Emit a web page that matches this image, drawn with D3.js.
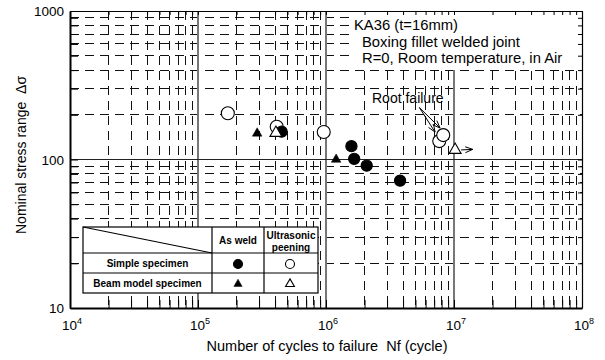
<!DOCTYPE html>
<html><head><meta charset="utf-8">
<script src="https://cdn.jsdelivr.net/npm/d3@7"></script>
<style>body{margin:0;background:#fff;} text{font-family:Arial,"Liberation Sans",sans-serif;fill:#000;}</style>
</head><body><svg id="c" width="605" height="360"></svg>
<script>
// ---- data ----
const xDomain = [1e4, 1e8];
const yDomain = [10, 1000];
const xTickExponents = [4, 5, 6, 7, 8];
const yTickLabels = [10, 100, 1000];
const simpleAsWeldN = [4.5e5, 1.58e6, 1.66e6, 2.08e6, 3.79e6];
const simpleAsWeldS = [154, 123, 101, 91, 72];
const beamAsWeldN = [2.9e5, 1.2e6];
const beamAsWeldS = [150, 100];
const simpleUPN = [1.71e5, 4.12e5, 9.6e5, 7.67e6, 8.24e6];
const simpleUPS = [205, 166, 153, 133, 146];
const beamUPN = [4.06e5, 1.02e7];
const beamUPS = [151, 116];
const rootArrowFrom = [5.36e6, 224];
const rootArrowToN = [7.11e6, 7.78e6];
const rootArrowToS = [153, 163];
const runoutFrom = [1.02e7, 116];
const runoutTo = [1.4e7, 117];
const infoLines = ["KA36 (t=16mm)", "Boxing fillet welded joint", "R=0, Room temperature, in Air"];

// ---- chart ----
const svg = d3.select("#c");
const x = d3.scaleLog().domain(xDomain).range([70, 582]);
const y = d3.scaleLog().domain(yDomain).range([308, 11]);
const X0 = 70, X1 = 582, Y0 = 11, Y1 = 308;

const xMinor = [], yMinor = [];
for (let e = 4; e <= 7; e++) for (let m = 2; m <= 9; m++) xMinor.push(m * Math.pow(10, e));
for (let e = 1; e <= 2; e++) for (let m = 2; m <= 9; m++) yMinor.push(m * Math.pow(10, e));
const xMajor = [1e5, 1e6, 1e7];
const yMajor = [100];
const xAllTicks = xMinor.concat(xTickExponents.map(e => Math.pow(10, e)));
const yAllTicks = yMinor.concat(yTickLabels);

const grid = svg.append("g").attr("shape-rendering", "crispEdges");
grid.selectAll(".vm").data(xMinor).join("line")
  .attr("x1", d => x(d)).attr("x2", d => x(d)).attr("y1", Y0).attr("y2", Y1)
  .attr("stroke", "#111").attr("stroke-width", 1).attr("stroke-dasharray", "9,6");
grid.selectAll(".hm").data(yMinor).join("line")
  .attr("y1", d => y(d)).attr("y2", d => y(d)).attr("x1", X0).attr("x2", X1)
  .attr("stroke", "#111").attr("stroke-width", 1).attr("stroke-dasharray", "9,6");
grid.selectAll(".vM").data(xMajor).join("line")
  .attr("x1", d => x(d)).attr("x2", d => x(d)).attr("y1", Y0).attr("y2", Y1)
  .attr("stroke", "#777").attr("stroke-width", 2);
grid.selectAll(".hM").data(yMajor).join("line")
  .attr("y1", d => y(d)).attr("y2", d => y(d)).attr("x1", X0).attr("x2", X1)
  .attr("stroke", "#222").attr("stroke-width", 1);

// info text box
svg.append("rect").attr("x", 350).attr("y", 12).attr("width", X1 - 350).attr("height", 58).attr("fill", "#fff");
svg.selectAll(".info").data(infoLines).join("text")
  .attr("x", (d, i) => i === 0 ? 354 : 362)
  .attr("y", (d, i) => 30 + i * 16.6)
  .attr("font-size", 14.8).text(d => d);

// legend table
const lg = svg.append("g");
lg.append("rect").attr("x", 83).attr("y", 227).attr("width", 235).attr("height", 66)
  .attr("fill", "#fff").attr("stroke", "#000").attr("stroke-width", 1.2);
[[212, 227, 212, 293], [264, 227, 264, 293], [83, 253, 318, 253], [83, 273, 318, 273], [83, 227, 212, 253]]
  .forEach(l => lg.append("line").attr("x1", l[0]).attr("y1", l[1]).attr("x2", l[2]).attr("y2", l[3])
    .attr("stroke", "#000").attr("stroke-width", 1.2));
const lt = [["As weld", 238, 244], ["Ultrasonic", 291, 238.5], ["peening", 291, 250.5],
  ["Simple specimen", 147.5, 267], ["Beam model specimen", 147.5, 287]];
lg.selectAll(".lt").data(lt).join("text").attr("x", d => d[1]).attr("y", d => d[2])
  .attr("text-anchor", "middle").attr("font-size", 10).attr("font-weight", "bold").text(d => d[0]);

function circ(g, cx, cy, r, filled) {
  g.append("circle").attr("cx", cx).attr("cy", cy).attr("r", r)
    .attr("fill", filled ? "#000" : "#fff").attr("stroke", "#000").attr("stroke-width", 1.1);
}
function tri(g, cx, cy, size, filled) {
  g.append("path").attr("d", d3.symbol(d3.symbolTriangle, size)())
    .attr("transform", `translate(${cx},${cy})`)
    .attr("fill", filled ? "#000" : "#fff").attr("stroke", "#000").attr("stroke-width", filled ? 0.5 : 1.1);
}
circ(lg, 238, 264, 4.5, true);
circ(lg, 290, 264, 4.5, false);
tri(lg, 238, 284, 30, true);
tri(lg, 290, 284, 34, false);

// data markers
const mk = svg.append("g");
simpleUPN.forEach((n, i) => circ(mk, x(n), y(simpleUPS[i]), 6.5, false));
simpleAsWeldN.forEach((n, i) => circ(mk, x(n), y(simpleAsWeldS[i]), 5.6, true));
beamAsWeldN.forEach((n, i) => tri(mk, x(n), y(beamAsWeldS[i]), 40, true));
beamUPN.forEach((n, i) => tri(mk, x(n), y(beamUPS[i]), 62, false));

// arrows
function arrow(x0, y0, x1, y1) {
  const a = Math.atan2(y1 - y0, x1 - x0), L = 8, h = 0.38;
  const p = `M${x0},${y0}L${x1},${y1}M${x1 - L * Math.cos(a - h)},${y1 - L * Math.sin(a - h)}L${x1},${y1}L${x1 - L * Math.cos(a + h)},${y1 - L * Math.sin(a + h)}`;
  svg.append("path").attr("d", p).attr("fill", "none").attr("stroke", "#000").attr("stroke-width", 1);
}
rootArrowToN.forEach((n, i) => arrow(x(rootArrowFrom[0]), y(rootArrowFrom[1]), x(n), y(rootArrowToS[i])));
arrow(x(runoutFrom[0]) + 6, y(runoutFrom[1]), x(runoutTo[0]), y(runoutTo[1]));
svg.append("text").attr("x", 372).attr("y", 103).attr("font-size", 14).text("Root failure");

// axes
const ax = svg.append("g");
ax.append("g").attr("class", "thick").attr("transform", `translate(0,${Y1})`)
  .call(d3.axisBottom(x).tickValues(xAllTicks).tickSize(-8).tickSizeOuter(0).tickFormat(() => ""));
ax.append("g").attr("class", "thick").attr("transform", `translate(${X0},0)`)
  .call(d3.axisLeft(y).tickValues(yAllTicks).tickSize(-8).tickSizeOuter(0).tickFormat(() => ""));
ax.append("g").attr("transform", `translate(0,${Y0})`)
  .call(d3.axisTop(x).tickValues(xAllTicks).tickSize(-4).tickSizeOuter(0).tickFormat(() => ""));
ax.append("g").attr("transform", `translate(${X1},0)`)
  .call(d3.axisRight(y).tickValues(yAllTicks).tickSize(-4).tickSizeOuter(0).tickFormat(() => ""));
ax.selectAll(".domain").attr("stroke", "#000").attr("stroke-width", 1.2);
ax.selectAll(".tick line").attr("stroke", "#000").attr("stroke-width", 1);
ax.selectAll(".thick .domain").attr("stroke-width", 2);

// tick labels
const xl = svg.selectAll(".xl").data(xTickExponents).join("text")
  .attr("x", d => x(Math.pow(10, d)) + 2).attr("y", 330).attr("text-anchor", "middle").attr("font-size", 13.5);
xl.append("tspan").text("10");
xl.append("tspan").attr("dy", -6).attr("font-size", 9).text(d => d);
svg.selectAll(".yl").data(yTickLabels).join("text")
  .attr("x", 64).attr("y", d => y(d) + 5).attr("text-anchor", "end").attr("font-size", 13.5).text(d => d);

// axis titles
svg.append("text").attr("x", 327).attr("y", 351).attr("text-anchor", "middle").attr("font-size", 14.5)
  .style("white-space", "pre").text("Number of cycles to failure  Nf (cycle)");
svg.append("text").attr("transform", "translate(26,155) rotate(-90)").attr("text-anchor", "middle")
  .attr("font-size", 14).style("white-space", "pre").text("Nominal stress range  Δσ");
</script></body></html>
